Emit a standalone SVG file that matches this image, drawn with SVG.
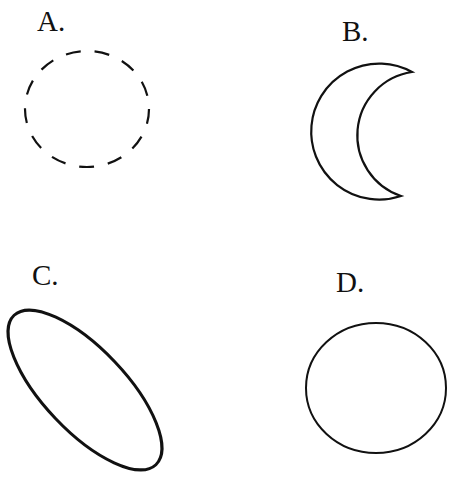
<svg xmlns="http://www.w3.org/2000/svg" width="450" height="483" viewBox="0 0 450 483">
<style>
text{font-family:"Liberation Serif","Times New Roman",serif;font-size:29px;fill:#111}
.s{fill:none;stroke:#111}
</style>
<rect width="450" height="483" fill="#fff"/>
<g id="A">
<text x="37" y="31">A.</text>
<ellipse class="s" cx="87" cy="109" rx="62" ry="58" stroke-width="2.2" stroke-dasharray="15 14"/>
</g>
<g id="B">
<text x="342" y="41">B.</text>
<path class="s" stroke-width="2.2" d="M412,72 A68,68 0 1 0 401,196 A64,64 0 0 1 412,72 Z"/>
</g>
<g id="C">
<text x="32" y="285">C.</text>
<ellipse class="s" cx="85" cy="390" rx="103" ry="41" stroke-width="3" transform="rotate(46.5 85 390)"/>
</g>
<g id="D">
<text x="336" y="292">D.</text>
<ellipse class="s" cx="376" cy="388" rx="70" ry="65" stroke-width="2"/>
</g>
</svg>
